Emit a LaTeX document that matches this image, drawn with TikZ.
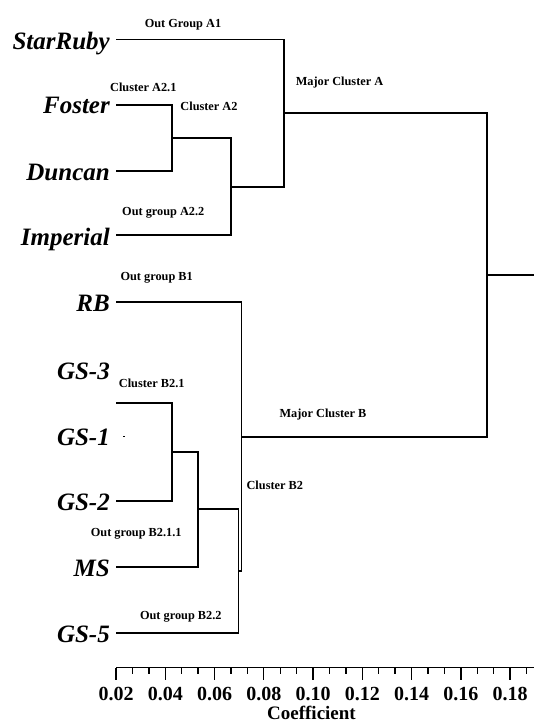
\documentclass[tikz,border=0pt]{standalone}
\usepackage{fontspec}
\setmainfont{Liberation Serif}
\begin{document}
\begin{tikzpicture}[x=1pt,y=-1pt,
  branch/.style={line width=1.9pt, line join=miter},
  leaf/.style={anchor=base east, inner sep=0pt, font=\fontsize{25}{30}\selectfont\bfseries\itshape},
  tag/.style={anchor=base, inner sep=0pt, font=\fontsize{12.3}{14}\selectfont\bfseries},
  ticklbl/.style={anchor=base, inner sep=0pt, font=\fontsize{20}{24}\selectfont\bfseries},
  tickmark/.style={line width=1.4pt}]
\useasboundingbox (0,0) rectangle (534,725);

% leaf labels
\node[leaf] (lsr) at (110,49.5) {StarRuby};
\node[leaf] (lfo) at (110,113.5) {Foster};
\node[leaf] (ldu) at (110,180) {Duncan};
\node[leaf] (lim) at (110,245) {Imperial};
\node[leaf] (lrb) at (110,311) {RB};
\node[leaf] (lg3) at (110,379) {GS-3};
\node[leaf] (lg1) at (110,445) {GS-1};
\node[leaf] (lg2) at (110,510) {GS-2};
\node[leaf] (lms) at (110,576) {MS};
\node[leaf] (lg5) at (110,642) {GS-5};

% leaf line ends
\coordinate (sr) at (116,39.5);
\coordinate (fo) at (116,105.3);
\coordinate (du) at (116,171.3);
\coordinate (im) at (116,235);
\coordinate (rb) at (116,302.3);
\coordinate (g3) at (116,402.7);
\coordinate (g2) at (116,500.7);
\coordinate (ms) at (116,566.7);
\coordinate (g5) at (116,633);

% merge points
\coordinate (A21) at (172.3,138.3);
\coordinate (A2)  at (231,186.7);
\coordinate (A)   at (284,113.1);
\coordinate (B21) at (172.3,451.7);
\coordinate (B211) at (197.7,509.2);
\coordinate (B22) at (238.5,571.1);
\coordinate (B)   at (241.5,436.7);
\coordinate (R)   at (487,274.9);
\coordinate (Rout) at (534,274.9);

% dendrogram branches
\draw[branch] (fo) -| (A21) |- (du);
\draw[branch] (A21) -| (A2) |- (im);
\draw[branch] (sr) -| (A) |- (A2);
\draw[branch] (g3) -| (B21) |- (g2);
\draw[branch] (B21) -| (B211) |- (ms);
\draw[branch] (B211) -| (B22) |- (g5);
\draw[branch] (rb) -| (B) |- (B22);
\draw[branch] (A) -| (R) |- (B);
\draw[branch] (R) -- (Rout);

% small stray mark beside GS-1
\coordinate (m1) at (123,436.5);
\coordinate (m2) at (125,436.5);
\draw[line width=0.8pt] (m1) -- (m2);

% cluster annotations
\node[tag] (t1) at (183,28) {Out Group A1};
\node[tag] (t2) at (143.3,91.3) {Cluster A2.1};
\node[tag] (t3) at (209,110) {Cluster A2};
\node[tag] (t4) at (163.3,215.5) {Out group A2.2};
\node[tag] (t5) at (339.5,85.7) {Major Cluster A};
\node[tag] (t6) at (156.7,280.7) {Out group B1};
\node[tag] (t7) at (151.7,387.3) {Cluster B2.1};
\node[tag] (t8) at (323,417.3) {Major Cluster B};
\node[tag] (t9) at (274.8,489.7) {Cluster B2};
\node[tag] (t10) at (136.2,536.7) {Out group B2.1.1};
\node[tag] (t11) at (180.8,619) {Out group B2.2};

% coefficient axis
\draw[line width=1.8pt] (116,667.5) -- (534,667.5);
\foreach \i in {0,...,25}{
  \pgfmathsetmacro{\xx}{116+\i*16.42}
  \pgfmathtruncatemacro{\rr}{mod(\i,3)}
  \ifnum\rr=0
    \draw[tickmark] (\xx,667.5) -- (\xx,680);
  \else
    \draw[tickmark] (\xx,667.5) -- (\xx,674);
  \fi
}
\foreach \v [count=\k from 0] in {0.02,0.04,0.06,0.08,0.10,0.12,0.14,0.16,0.18}{
  \pgfmathsetmacro{\xx}{116+\k*3*16.42}
  \node[ticklbl] at (\xx,700) {\v};
}
\node[ticklbl, font=\fontsize{19}{22}\selectfont\bfseries] (axtitle) at (311.5,719) {Coefficient};
\end{tikzpicture}
\end{document}
